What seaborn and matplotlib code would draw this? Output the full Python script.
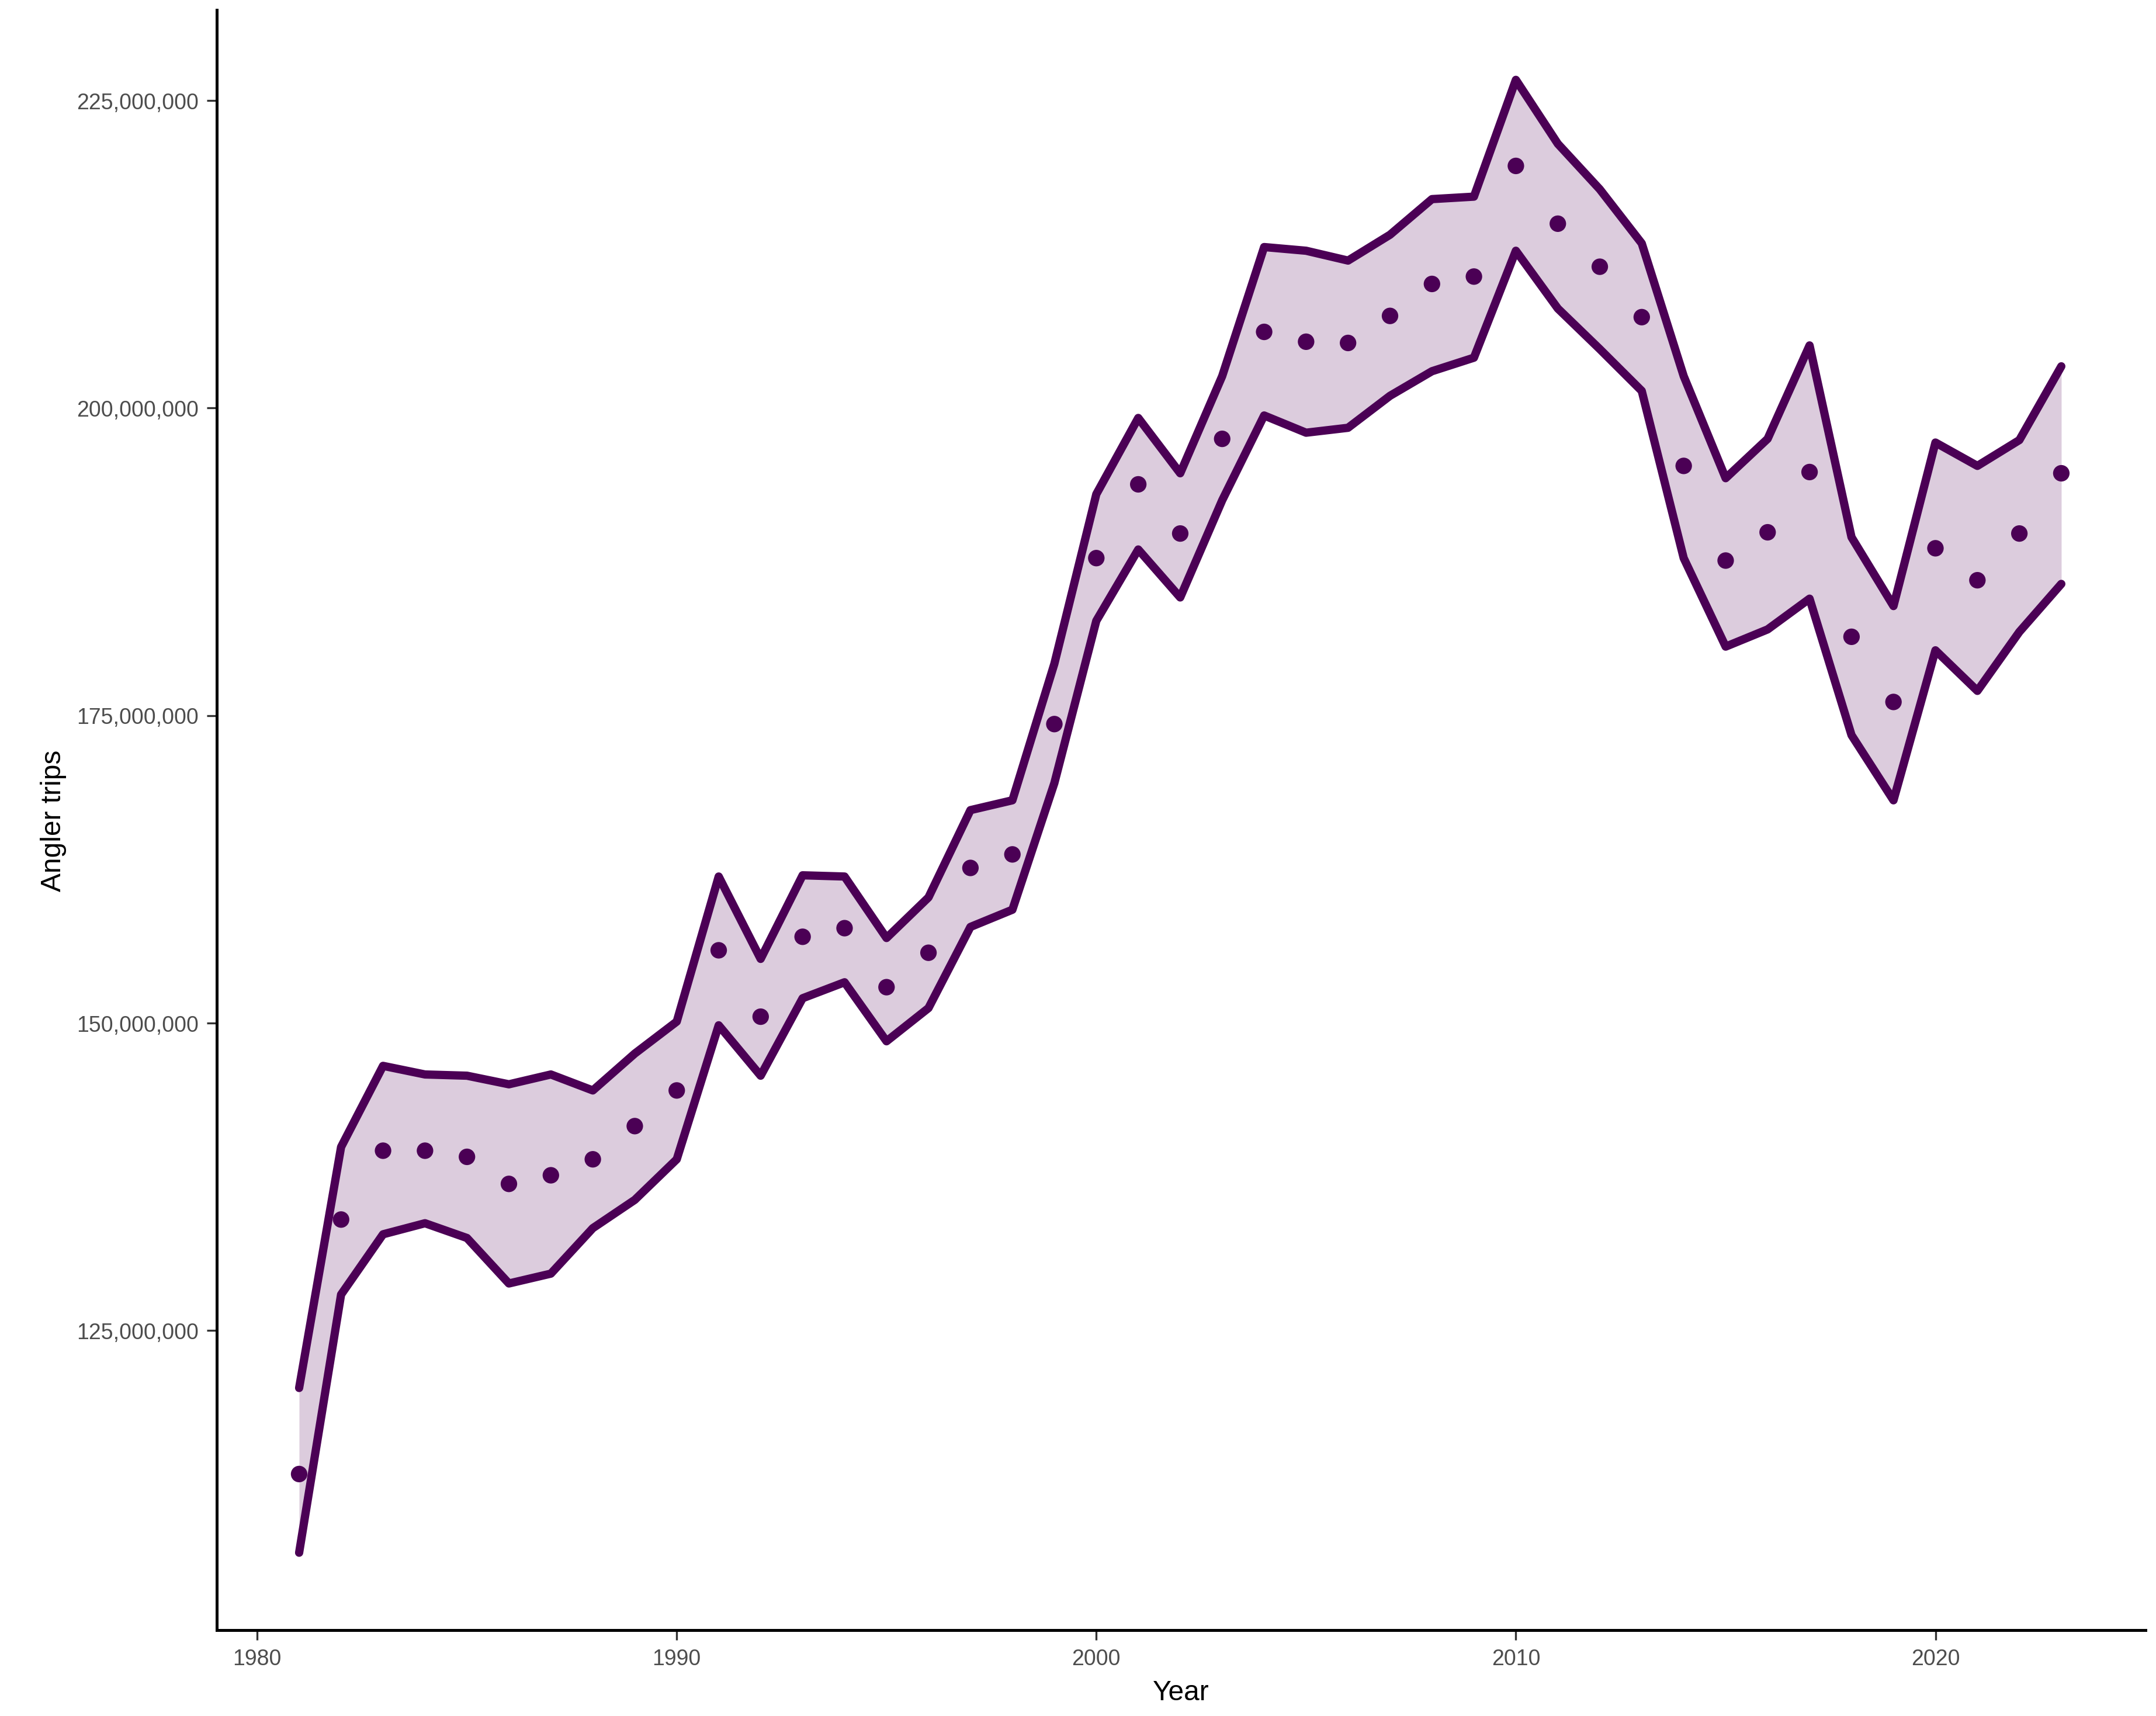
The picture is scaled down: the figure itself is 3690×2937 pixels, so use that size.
import matplotlib
matplotlib.use("Agg")
import matplotlib.pyplot as plt
import seaborn as sns
import pandas as pd
from matplotlib.ticker import FuncFormatter

years = list(range(1981, 2024))
estimate = [113.3,134.0,139.6,139.6,139.1,136.9,137.6,138.9,141.6,144.5,155.9,150.5,157.0,157.7,152.9,155.7,162.6,163.7,174.3,187.8,193.8,189.8,197.5,206.2,205.4,205.3,207.5,210.1,210.7,219.7,215.0,211.5,207.4,195.3,187.6,189.9,194.8,181.4,176.1,188.6,186.0,189.8,194.7]
upper = [120.3,139.9,146.5,145.8,145.7,145.0,145.8,144.5,147.5,150.1,161.9,155.2,162.0,161.9,156.9,160.2,167.3,168.1,179.2,193.0,199.2,194.7,202.6,213.1,212.8,212.0,214.1,217.0,217.2,226.7,221.5,217.8,213.4,202.6,194.3,197.5,205.1,189.5,183.9,197.2,195.3,197.4,203.4]
lower = [106.9,127.9,132.8,133.7,132.5,128.8,129.6,133.3,135.6,138.9,149.8,145.7,152.0,153.3,148.5,151.2,157.8,159.2,169.5,182.7,188.5,184.6,192.5,199.4,198.0,198.4,201.0,203.0,204.1,212.8,208.1,204.8,201.4,187.8,180.6,182.0,184.5,173.4,168.1,180.3,177.0,181.8,185.7]

df = pd.DataFrame({"Year": years,
                   "est": [v*1e6 for v in estimate],
                   "up": [v*1e6 for v in upper],
                   "lo": [v*1e6 for v in lower]})

sns.set_style("white")
plt.rcParams['font.family'] = ['Liberation Sans', 'DejaVu Sans']
col = "#4B0055"
fig = plt.figure(figsize=(12.3, 9.793), dpi=300)
ax = fig.add_axes([0.1006, 0.05, 0.8944, 0.944])
ax.fill_between(df["Year"], df["lo"], df["up"], color="#DCCCDD", lw=0)
sns.lineplot(data=df, x="Year", y="up", color=col, lw=3.4, ax=ax)
sns.lineplot(data=df, x="Year", y="lo", color=col, lw=3.4, ax=ax)
sns.scatterplot(data=df, x="Year", y="est", color=col, s=46, edgecolor="none", ax=ax, zorder=5)
ax.set_xlim(1979.04, 2025.0)
ax.set_ylim(100.6e6, 232.4e6)
ax.set_xticks([1980, 1990, 2000, 2010, 2020])
ax.set_yticks([125e6, 150e6, 175e6, 200e6, 225e6])
ax.yaxis.set_major_formatter(FuncFormatter(lambda v, p: f"{v:,.0f}"))
ax.tick_params(axis="both", labelsize=9, colors="#4D4D4D", length=4, width=0.8, direction="out", bottom=True, left=True)
ax.tick_params(axis="both", labelcolor="#4D4D4D", color="#333333")
ax.set_xlabel("Year", fontsize=11.5, color="black")
ax.set_ylabel("Angler trips", fontsize=11.5, color="black")
for s in ["top", "right"]:
    ax.spines[s].set_visible(False)
for s in ["left", "bottom"]:
    ax.spines[s].set_color("black")
    ax.spines[s].set_linewidth(1.2)
fig.savefig("out.png", dpi=300)
